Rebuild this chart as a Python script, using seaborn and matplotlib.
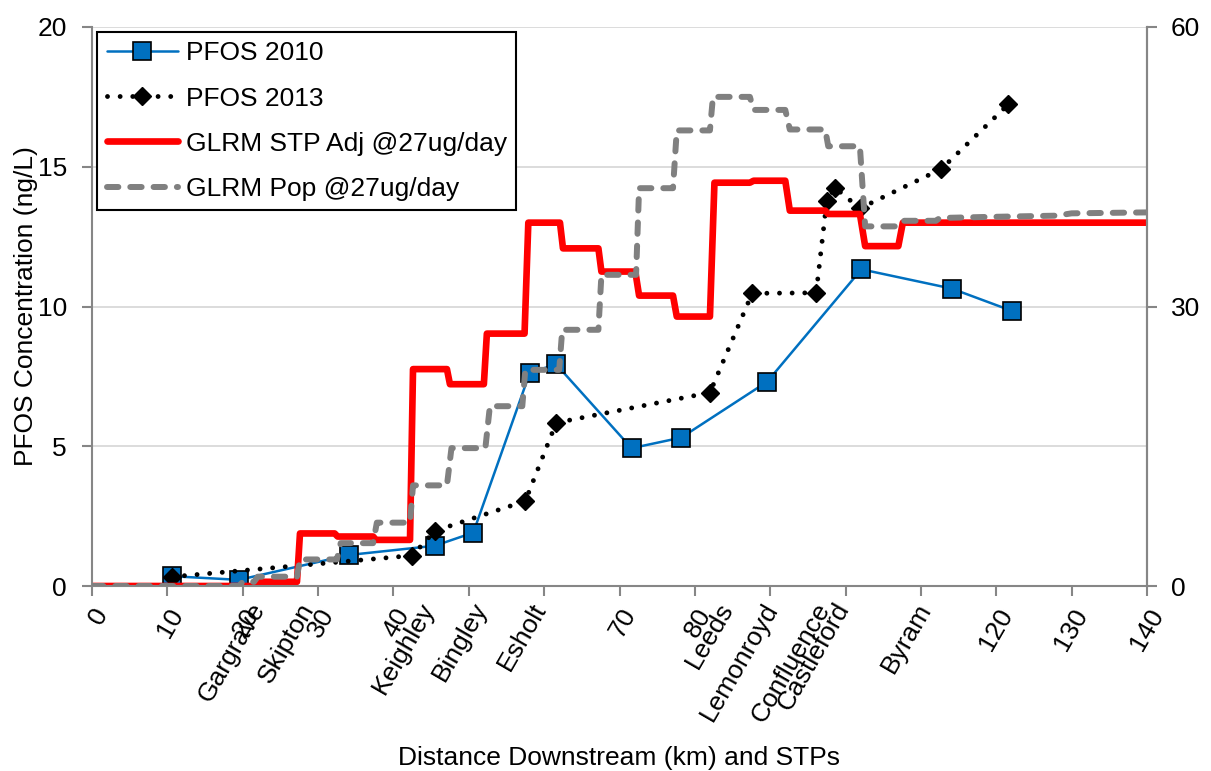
import matplotlib
matplotlib.use("Agg")
import matplotlib.pyplot as plt
import seaborn as sns
import numpy as np
import pandas as pd

# ---------------- data ----------------
pfos2010_x = [10.6, 19.5, 34.1, 45.5, 50.6, 58.1, 61.6, 71.6, 78.2, 89.6, 102.1, 114.1, 122.1]
pfos2010_y = [0.35, 0.22, 1.11, 1.44, 1.91, 7.63, 7.93, 4.93, 5.31, 7.31, 11.33, 10.64, 9.84]

pfos2013_x = [10.6, 42.5, 45.5, 57.5, 61.6, 82.0, 87.6, 96.1, 97.5, 98.6, 101.9, 112.7, 121.6]
pfos2013_y = [0.33, 1.09, 1.97, 3.04, 5.84, 6.92, 10.47, 10.49, 13.77, 14.25, 13.51, 14.92, 17.23]

stp_adj_x = [0, 21.5, 22.3, 27.2, 27.6, 32.2, 32.6, 37.3, 37.7, 42.2, 42.6, 47.1, 47.5, 52.0,
             52.4, 57.4, 57.9, 62.1, 62.5, 67.2, 67.6, 72.1, 72.6, 77.1, 77.6, 82.0, 82.6,
             87.3, 87.8, 92.0, 92.6, 97.3, 97.7, 101.9, 102.6, 107.0, 107.6, 140]
stp_adj_y = [0, 0, 0.15, 0.15, 1.88, 1.88, 1.77, 1.77, 1.65, 1.65, 7.76, 7.76, 7.22, 7.22,
             9.03, 9.03, 13.0, 13.0, 12.08, 12.08, 11.25, 11.25, 10.39, 10.39, 9.64, 9.64, 14.43,
             14.43, 14.5, 14.5, 13.43, 13.43, 13.31, 13.31, 12.16, 12.16, 13.0, 13.0]

# GLRM Pop (secondary axis, 0-60)
pop_x = [0, 19.5, 20.0, 21.5, 22.0, 27.2, 27.6, 32.5, 33.0, 37.3, 37.8, 42.2, 42.6, 47.1, 47.7,
         52.2, 52.8, 57.1, 57.5, 62.0, 62.4, 67.2, 67.6, 72.2, 72.6, 77.1, 77.6, 82.0, 82.4,
         87.3, 87.8, 92.0, 92.6, 97.3, 97.7, 101.9, 102.6, 107.0, 107.7, 112.0, 112.5, 118.0,
         128.0, 130.0, 140.0]
pop_y = [0, 0, 0.45, 0.45, 1.0, 1.0, 2.85, 2.85, 4.6, 4.6, 6.8, 6.8, 10.8, 10.8, 14.8,
         14.8, 19.3, 19.3, 23.2, 23.2, 27.5, 27.5, 33.4, 33.4, 42.7, 42.7, 48.9, 48.9, 52.5,
         52.5, 51.1, 51.1, 49.0, 49.0, 47.2, 47.2, 38.6, 38.6, 39.2, 39.2, 39.5, 39.6,
         39.75, 40.0, 40.1]

num_ticks = [0, 10, 20, 30, 40, 50, 60, 70, 80, 90, 100, 110, 120, 130, 140]
num_labels = ["0", "10", "20", "30", "40", "", "", "70", "80", "", "", "", "120", "130", "140"]
stp_names = ["Gargrave", "Skipton", "Keighley", "Bingley", "Esholt", "Leeds",
             "Lemonroyd", "Confluence", "Castleford", "Byram"]
stp_pos = [20.8, 27.3, 43.3, 50.3, 58.2, 83.0, 88.9, 95.8, 98.4, 109.3]

# ---------------- style ----------------
sns.set_theme(style="white")
plt.rcParams["font.family"] = ["Liberation Sans", "DejaVu Sans"]
plt.rcParams["text.color"] = "black"
plt.rcParams["axes.labelcolor"] = "black"
plt.rcParams["xtick.color"] = "black"
plt.rcParams["ytick.color"] = "black"
FS = 19
SPINE = "#868686"

fig = plt.figure(figsize=(12.11, 7.71), dpi=100)
W, H = 1211, 771
ax = fig.add_axes([92 / W, 1 - 586 / H, (1147 - 92) / W, (586 - 27) / H])

sns.lineplot(x=pfos2010_x, y=pfos2010_y, ax=ax, color="#0070C0", linewidth=1.8,
             marker="s", markersize=12.5, markerfacecolor="#0070C0",
             markeredgecolor="black", markeredgewidth=1.2,
             sort=False, estimator=None, label="PFOS 2010")
sns.lineplot(x=pfos2013_x, y=pfos2013_y, ax=ax, color="black", linewidth=3.5,
             marker="D", markersize=9.5, markerfacecolor="black",
             markeredgecolor="black", markeredgewidth=1,
             sort=False, estimator=None, label="PFOS 2013")
l13 = ax.lines[-1]
l13.set_dashes((0.001, 2.6))
l13.set_dash_capstyle("round")
sns.lineplot(x=stp_adj_x, y=stp_adj_y, ax=ax, color="#FF0000", linewidth=4.8,
             sort=False, estimator=None, label="GLRM STP Adj @27ug/day")
ax.lines[-1].set_solid_joinstyle("round")

ax2 = ax.twinx()
sns.lineplot(x=pop_x, y=pop_y, ax=ax2, color="#808080", linewidth=4.3,
             sort=False, estimator=None, label="GLRM Pop @27ug/day")
lp = ax2.lines[-1]
lp.set_dashes((1.9, 2.0))
lp.set_dash_capstyle("round")

# axes limits / ticks
ax.set_xlim(0, 140)
ax.set_ylim(0, 20)
ax2.set_ylim(0, 60)
ax.set_yticks([0, 5, 10, 15, 20])
ax2.set_yticks([0, 30, 60])
ax.xaxis.remove_overlapping_locs = False
ax.set_xticks(num_ticks)
ax.set_xticklabels(num_labels, rotation=60, ha="right", rotation_mode="anchor")
ax.set_xticks(stp_pos, minor=True)
ax.set_xticklabels(stp_names, minor=True, rotation=60, ha="right", rotation_mode="anchor")

ax.grid(axis="y", color="#D9D9D9", linewidth=1.3)
ax.set_axisbelow(True)

for a in (ax, ax2):
    for s in a.spines.values():
        s.set_color(SPINE)
        s.set_linewidth(1.5)
    a.spines["top"].set_visible(False)
ax2.spines["left"].set_visible(False)
ax2.spines["bottom"].set_visible(False)

ax.tick_params(axis="y", which="major", direction="out", length=7, width=1.5,
               color=SPINE, labelcolor="black", labelsize=FS, pad=11, left=True)
ax.tick_params(axis="x", which="major", direction="out", length=7, width=1.5,
               color=SPINE, labelcolor="black", labelsize=FS, pad=6, bottom=True)
ax.tick_params(axis="x", which="minor", length=0, labelsize=FS, labelcolor="black",
               pad=9, bottom=True)
ax2.tick_params(axis="y", direction="out", length=7, width=1.5, color=SPINE,
                labelcolor="black", labelsize=FS, pad=10, right=True)

ax.set_xlabel("Distance Downstream (km) and STPs", fontsize=FS, labelpad=14, color="black")
ax.set_ylabel("PFOS Concentration (ng/L)", fontsize=FS, labelpad=0, color="black")
ax2.set_ylabel("")

# legend
h1, lab1 = ax.get_legend_handles_labels()
h2, lab2 = ax2.get_legend_handles_labels()
if ax.get_legend() is not None:
    ax.get_legend().remove()
if ax2.get_legend() is not None:
    ax2.get_legend().remove()
leg = ax2.legend(h1 + h2, lab1 + lab2, loc="upper left",
                 bbox_to_anchor=((97 - 92) / 1055, (586 - 32) / 559),
                 borderaxespad=0, fontsize=FS, frameon=True, fancybox=False,
                 edgecolor="black", handlelength=2.7, handletextpad=0.3,
                 labelspacing=0.8, borderpad=0.36)
leg.get_frame().set_linewidth(1.5)
leg.get_frame().set_facecolor("white")
leg.get_frame().set_alpha(1)
for t in leg.get_texts():
    t.set_color("black")

fig.savefig("out.png", dpi=100)
